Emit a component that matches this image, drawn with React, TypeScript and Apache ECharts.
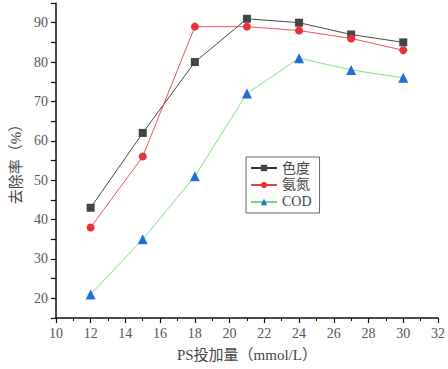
import React, { useEffect, useRef } from "react";
import * as echarts from "echarts";

const doses = [12, 15, 18, 21, 24, 27, 30];
const chroma = [43, 62, 80, 91, 90, 87, 85];
const ammonia = [38, 56, 89, 89, 88, 86, 83];
const cod = [21, 35, 51, 72, 81, 78, 76];
const seriesNames = ["色度", "氨氮", "COD"];

const FONT = "'Liberation Serif', 'Noto Sans CJK SC', serif";

export default function App() {
  const ref = useRef<HTMLDivElement>(null);
  useEffect(() => {
    if (!ref.current) return;
    const chart = echarts.init(ref.current, undefined, { renderer: "svg" });
    const pair = (arr: number[]) => doses.map((d, i) => [d, arr[i]]);
    const axisCommon = {
      axisLine: { show: true, lineStyle: { color: "#111", width: 1.5 } },
      axisTick: { show: true, inside: false, length: 5, lineStyle: { color: "#111", width: 1.2 } },
      minorTick: { show: true, splitNumber: 2, length: 3, lineStyle: { color: "#111", width: 1 } },
      splitLine: { show: false },
      axisLabel: { color: "#555", fontFamily: FONT, fontSize: 14 },
      nameTextStyle: { color: "#444", fontFamily: FONT, fontSize: 15, fontWeight: "normal" },
    };
    chart.setOption({
      animation: false,
      backgroundColor: "#fff",
      grid: { left: 47, right: 10, top: 3, bottom: 51 },
      xAxis: {
        type: "value",
        min: 10,
        max: 32,
        interval: 2,
        name: "PS投加量（mmol/L）",
        nameLocation: "middle",
        nameGap: 29,
        ...axisCommon,
      },
      yAxis: {
        type: "value",
        min: 15,
        max: 95,
        interval: 5,
        name: "去除率（%）",
        nameLocation: "middle",
        nameGap: 27,
        ...axisCommon,
        axisLabel: {
          color: "#555",
          fontFamily: FONT,
          fontSize: 14,
          formatter: (v: number) => (v % 10 === 0 && v >= 20 && v <= 90 ? String(v) : ""),
        },
        axisTick: { show: true, length: 5, lineStyle: { color: "#111", width: 1.2 } },
        minorTick: { show: false },
      },
      legend: {
        orient: "vertical",
        left: 246,
        top: 157,
        borderColor: "#666",
        borderWidth: 1,
        padding: [4, 8, 4, 4],
        itemGap: 3,
        itemWidth: 26,
        itemHeight: 8,
        textStyle: { fontFamily: FONT, fontSize: 14, color: "#444" },
        data: seriesNames,
      },
      series: [
        {
          name: seriesNames[0],
          type: "line",
          data: pair(chroma),
          symbol: "rect",
          symbolSize: 8,
          lineStyle: { color: "#333", width: 0.9 },
          itemStyle: { color: "#444" },
        },
        {
          name: seriesNames[1],
          type: "line",
          data: pair(ammonia),
          symbol: "circle",
          symbolSize: 8,
          lineStyle: { color: "#e8404a", width: 0.9 },
          itemStyle: { color: "#e8333c" },
        },
        {
          name: seriesNames[2],
          type: "line",
          data: pair(cod),
          symbol: "triangle",
          symbolSize: 10,
          lineStyle: { color: "#6ee06e", width: 0.9 },
          itemStyle: { color: "#1f6fd6" },
        },
      ],
    });
    return () => chart.dispose();
  }, []);
  return <div ref={ref} style={{ width: 448, height: 369, position: "absolute", left: 0, top: 0 }} />;
}
